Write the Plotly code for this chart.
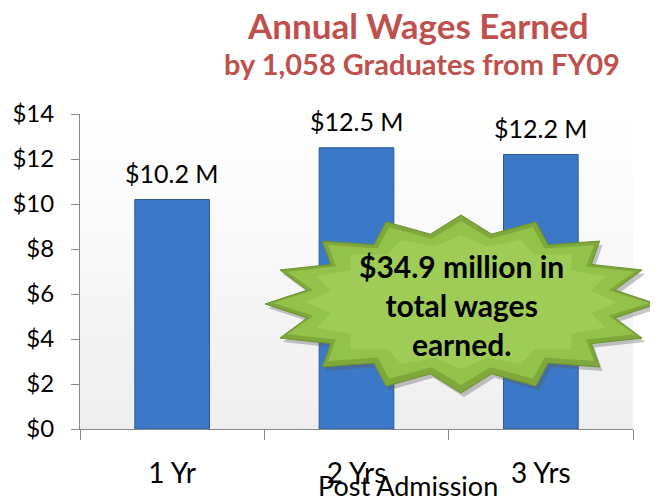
import numpy as np
import plotly.graph_objects as go

# ---- data ----
categories = ["1 Yr", "2 Yrs", "3 Yrs"]
wages_millions = [10.2, 12.5, 12.2]
bar_labels = ["$10.2 M", "$12.5 M", "$12.2 M"]
y_tick_values = [0, 2, 4, 6, 8, 10, 12, 14]
y_tick_labels = ["$0", "$2", "$4", "$6", "$8", "$10", "$12", "$14"]
title_line1 = "Annual Wages Earned"
title_line2 = "by 1,058 Graduates from FY09"
x_title = "Post Admission"
callout_lines = ["$34.9 million in", "total wages", "earned."]

FONT = "Lato"
OFF = 8  # page body margin offset
W, H = 650, 490
ML, MT = 80 - OFF, 114 - OFF
PR, PB = 633 - OFF, 429 - OFF
MR, MB = W - PR, H - PB
PW, PH = PR - ML, PB - MT

fig = go.Figure()
fig.add_trace(go.Bar(
    x=categories, y=wages_millions,
    marker=dict(color="#3b79c8", line=dict(color="#2c5b96", width=1)),
    hoverinfo="skip",
))

shapes = []
# plot-area background gradient (white top -> light gray bottom)
n = 40
for i in range(n):
    t = (i + 0.5) / n
    g = int(round(255 - (255 - 238) * t))
    shapes.append(dict(type="rect", xref="x domain", yref="y domain",
                       x0=0, x1=1, y0=1 - (i + 1) / n, y1=1 - i / n,
                       fillcolor=f"rgb({g},{g},{g})", line=dict(width=0),
                       layer="below"))

# convert reference-pixel position to paper coordinates
def px2paper(px, py):
    return (px - OFF - ML) / PW, (PB - (py - OFF)) / PH

def star_path(cx, cy, rx, ry, inner, npts=16, dx=0, dy=0):
    pts = []
    for k in range(2 * npts):
        a = np.pi * k / npts
        r = 1.0 if k % 2 == 0 else inner
        x = cx + dx + rx * r * np.cos(a)
        y = cy + dy - ry * r * np.sin(a)
        X, Y = px2paper(x, y)
        pts.append(f"{X:.4f},{Y:.4f}")
    return "M " + " L ".join(pts) + " Z"

SCX, SCY, SRX, SRY = 461, 304, 196, 89
shapes.append(dict(type="path", xref="paper", yref="paper",
                   path=star_path(SCX, SCY, SRX, SRY, 0.8, dx=3, dy=4),
                   fillcolor="rgba(90,90,90,0.35)", line=dict(width=0)))
shapes.append(dict(type="path", xref="paper", yref="paper",
                   path=star_path(SCX, SCY, SRX, SRY, 0.8),
                   fillcolor="#7ea93a", line=dict(color="#6a8f2e", width=1)))
shapes.append(dict(type="path", xref="paper", yref="paper",
                   path=star_path(SCX, SCY - 1, SRX - 8, SRY - 7, 0.8),
                   fillcolor="#93c24a", line=dict(width=0)))
shapes.append(dict(type="path", xref="paper", yref="paper",
                   path=star_path(SCX, SCY - 2, SRX - 40, SRY - 22, 0.85),
                   fillcolor="#9ecc57", line=dict(width=0)))

annotations = []
for c, v, lab in zip(categories, wages_millions, bar_labels):
    annotations.append(dict(x=c, y=v, text=lab, showarrow=False,
                            xref="x", yref="y", yanchor="bottom", yshift=10,
                            font=dict(family=FONT, size=25, color="#000000")))

tx, ty = px2paper(418, 25)
annotations.append(dict(x=tx, y=ty, xref="paper", yref="paper", text=f"<b>{title_line1}</b>",
                        showarrow=False, xanchor="center", yanchor="middle",
                        font=dict(family=FONT, size=35, color="#c0504d")))
tx, ty = px2paper(422, 64)
annotations.append(dict(x=tx, y=ty, xref="paper", yref="paper", text=f"<b>{title_line2}</b>",
                        showarrow=False, xanchor="center", yanchor="middle",
                        font=dict(family=FONT, size=29, color="#c0504d")))
tx, ty = px2paper(408, 485)
annotations.append(dict(x=tx, y=ty, xref="paper", yref="paper", text=x_title,
                        showarrow=False, xanchor="center", yanchor="middle",
                        font=dict(family=FONT, size=27, color="#000000")))
tx, ty = px2paper(461, 305)
annotations.append(dict(x=tx, y=ty, xref="paper", yref="paper",
                        text="<b>" + "<br>".join(callout_lines) + "</b>",
                        showarrow=False, xanchor="center", yanchor="middle", align="center",
                        font=dict(family=FONT, size=30, color="#000000")))

fig.update_layout(
    width=W, height=H,
    margin=dict(l=ML, r=MR, t=MT, b=MB, pad=0),
    paper_bgcolor="white", plot_bgcolor="rgba(0,0,0,0)",
    showlegend=False, bargap=0.595,
    shapes=shapes, annotations=annotations,
    font=dict(family=FONT, color="#000000"),
)
fig.update_yaxes(range=[0, 14], tickvals=y_tick_values, ticktext=y_tick_labels,
                 automargin=False,
                 showgrid=False, zeroline=False, showline=True, linecolor="#878787",
                 ticks="outside", ticklen=8, tickcolor="#878787",
                 ticklabelstandoff=12,
                 tickfont=dict(family=FONT, size=24, color="#000000"))
fig.update_xaxes(automargin=False,
                 showgrid=False, showline=True, linecolor="#878787",
                 ticks="outside", ticklen=10, tickcolor="#878787", tickson="boundaries",
                 ticklabelstandoff=19,
                 tickfont=dict(family=FONT, size=28, color="#000000"))

fig.write_html("out.html")
